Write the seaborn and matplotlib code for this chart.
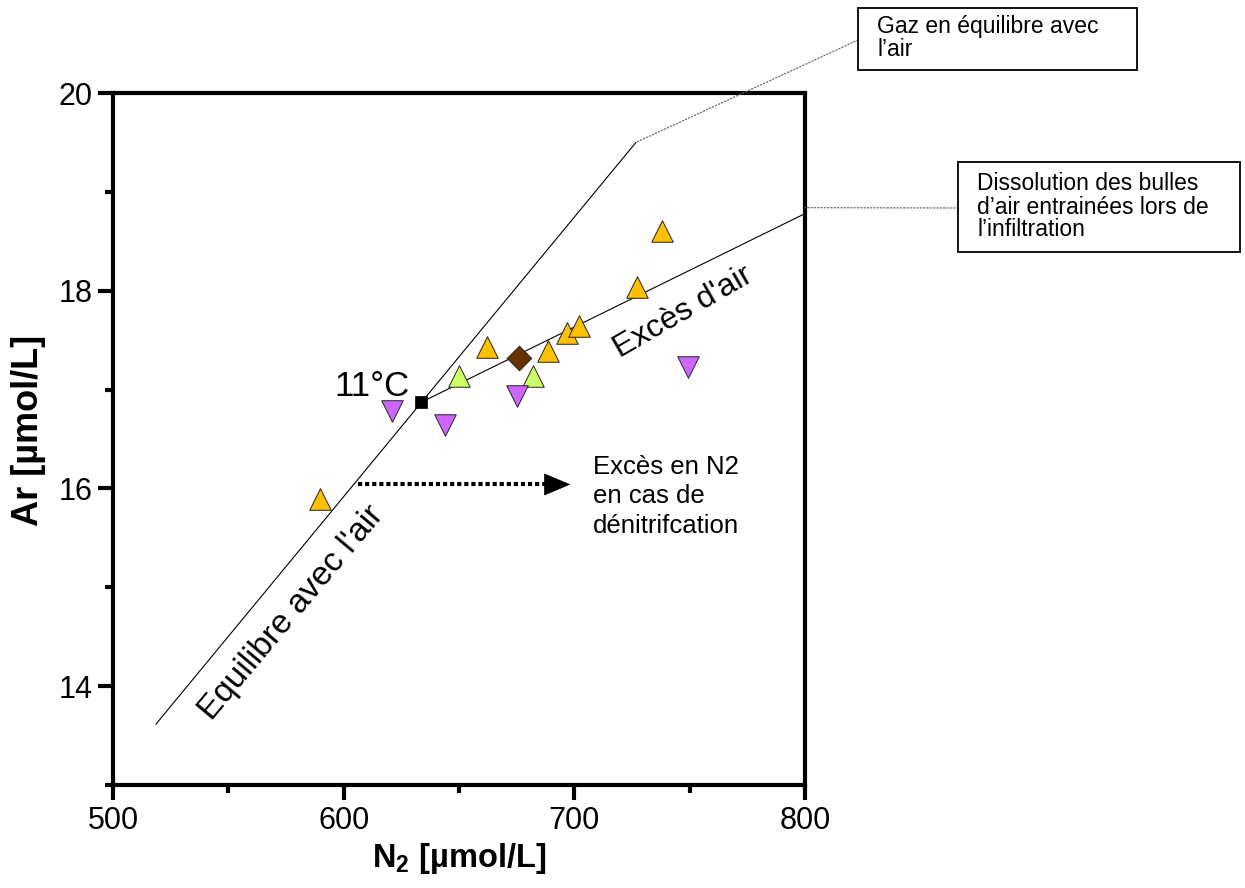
import matplotlib
matplotlib.use("Agg")
import matplotlib.pyplot as plt
from matplotlib.patches import Rectangle
import seaborn as sns

# ---- data ----
orange_n2 = [589.7, 662.0, 688.8, 696.9, 701.9, 727.1, 738.1]
orange_ar = [15.89, 17.43, 17.39, 17.575, 17.64, 18.04, 18.60]
green_n2 = [649.8, 681.9]
green_ar = [17.14, 17.14]
purple_n2 = [620.8, 643.9, 675.0, 749.1]
purple_ar = [16.78, 16.64, 16.94, 17.23]
brown_n2 = [675.9]
brown_ar = [17.32]
ref_n2 = [633.5]
ref_ar = [16.87]
equil_n2 = [518.6, 726.7]
equil_ar = [13.615, 19.50]
excess_n2 = [633.5, 800.0]
excess_ar = [16.87, 18.78]
x_ticks = [500, 600, 700, 800]
y_ticks = [14, 16, 18, 20]

sns.set_style("white")
plt.rcParams['font.family'] = ['Liberation Sans', 'DejaVu Sans']
plt.rcParams['mathtext.fontset'] = 'custom'
plt.rcParams['mathtext.rm'] = 'Liberation Sans'
plt.rcParams['mathtext.bf'] = 'Liberation Sans:bold'
for k in ['text.color', 'axes.labelcolor', 'xtick.color', 'ytick.color']:
    plt.rcParams[k] = 'black'

W, H = 1245, 888
fig = plt.figure(figsize=(W/100, H/100), dpi=100)
ax = fig.add_axes([113/W, 1-785/H, (805-113)/W, (785-93)/H])

sns.lineplot(x=equil_n2, y=equil_ar, ax=ax, color='black', lw=0.8, sort=False, zorder=2)
sns.lineplot(x=excess_n2, y=excess_ar, ax=ax, color='black', lw=0.8, sort=False, zorder=2)

ms = 15.5
groups = [
    (orange_n2, orange_ar, '^', '#FFC000'),
    (green_n2, green_ar, '^', '#CCFF66'),
    (purple_n2, purple_ar, 'v', '#CC66FF'),
    (brown_n2, brown_ar, 'D', '#663300'),
]
for xs, ys, mk, col in groups:
    size = ms**2 if mk != 'D' else 12.5**2
    sns.scatterplot(x=xs, y=ys, ax=ax, marker=mk, s=size, color=col,
                    edgecolor='#222222', linewidth=0.7, zorder=3)
sns.scatterplot(x=ref_n2, y=ref_ar, ax=ax, marker='s', s=8**2, color='black',
                edgecolor='black', linewidth=0.5, zorder=4)

ax.set_xlim(500, 800)
ax.set_ylim(13, 20)
ax.set_xticks(x_ticks)
ax.set_xticks([550, 650, 750], minor=True)
ax.set_yticks(y_ticks)
ax.set_yticks([13, 15, 17, 19], minor=True)
ax.tick_params(axis='both', which='major', direction='out', length=11, width=3,
               labelsize=22, pad=4, bottom=True, left=True)
ax.tick_params(axis='both', which='minor', direction='out', length=6, width=3,
               bottom=True, left=True)
for sp in ax.spines.values():
    sp.set_linewidth(3)
    sp.set_color('black')

ax.set_xlabel(r"$\mathbf{N_2}$ [µmol/L]", fontsize=23.5, fontweight='bold', labelpad=4)
ax.set_ylabel("Ar [µmol/L]", fontsize=26, fontweight='bold')
ax.yaxis.set_label_coords(-0.097, 0.512)

# annotations
ax.text(628.7, 16.94, "11°C", fontsize=25, ha='right', va='baseline')
ax.text(747.3, 17.78, "Excès d'air", fontsize=23, rotation=30, ha='center', va='center',
        rotation_mode='anchor')
ax.text(577.5, 14.74, "Equilibre avec l'air", fontsize=24, rotation=50, ha='center',
        va='center', rotation_mode='anchor')

ax.plot([606.2, 688.0], [16.04, 16.04], ls=(0, (1, 0.7)), lw=3, color='black')
ax.annotate('', xy=(698.3, 16.04), xytext=(687.2, 16.04),
            arrowprops=dict(arrowstyle='-|>,head_length=1.0,head_width=0.42',
                            color='black', lw=0.5, mutation_scale=18, shrinkA=0, shrinkB=0))
ax.text(708.1, 15.92, "Excès en N2\nen cas de\ndénitrifcation", fontsize=18.5,
        ha='left', va='center', linespacing=1.28)

# callout boxes (figure pixel geometry)
def fig_box(x0, y0, x1, y1):
    fig.patches.append(Rectangle((x0/W, 1-y1/H), (x1-x0)/W, (y1-y0)/H,
                                 transform=fig.transFigure, fill=True, fc='white',
                                 ec='black', lw=1.3, zorder=5))

fig_box(858, 8, 1137, 70)
fig.text(877/W, 1-38/H, "Gaz en équilibre avec\nl’air", fontsize=16.5, ha='left',
         va='center', linespacing=1.02, zorder=6)
fig_box(958, 162, 1240, 252)
fig.text(977/W, 1-207/H, "Dissolution des bulles\nd’air entrainées lors de\nl’infiltration",
         fontsize=16.5, ha='left', va='center', linespacing=1.0, zorder=6)

conn = dict(arrowstyle='-', ls=':', color='#666666', lw=0.9, shrinkA=0, shrinkB=0)
ax.annotate('', xy=(726.7, 19.50), xycoords='data',
            xytext=(858/W, 1-40/H), textcoords='figure fraction',
            arrowprops=conn, annotation_clip=False)
ax.annotate('', xy=(800, 18.84), xycoords='data',
            xytext=(958/W, 1-208/H), textcoords='figure fraction',
            arrowprops=conn, annotation_clip=False)

fig.savefig("out.png", dpi=100)
